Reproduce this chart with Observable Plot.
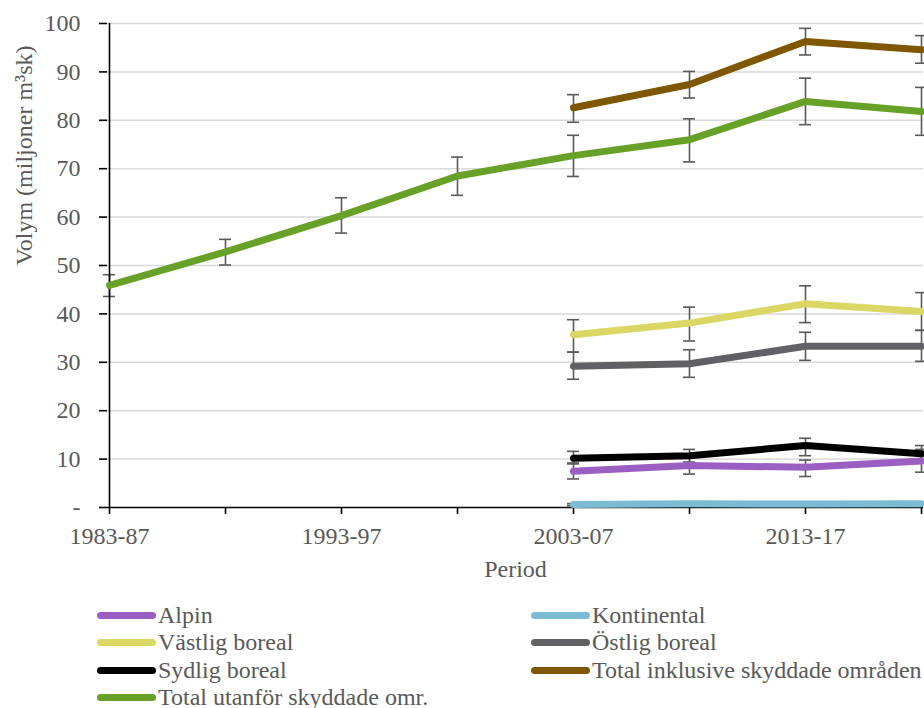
<!DOCTYPE html>
<html>
<head>
<meta charset="utf-8">
<script src="https://cdn.jsdelivr.net/npm/d3@7"></script>
<script src="https://cdn.jsdelivr.net/npm/@observablehq/plot@0.6"></script>
<style>
  html, body { margin: 0; padding: 0; background: #fff; overflow: hidden; }
  #chart svg, #chart svg text { font-family: 'Liberation Serif', 'Times New Roman', serif !important; font-size: 24px !important; }
  #chart svg text { fill: #595959; }
  #chart svg [aria-label$="axis tick"] path, #chart svg .tick line { stroke-width: 1.6px; }
  #legend {
    margin-top: 1.8px;
    padding-left: 97px;
    display: grid;
    grid-template-columns: 434px auto;
    grid-auto-rows: 27.4px;
    font-family: 'Liberation Serif', 'Times New Roman', serif;
    font-size: 24px;
    line-height: 27.4px;
    color: #595959;
    white-space: nowrap;
  }
  .item { display: flex; align-items: center; }
  .sw { width: 59px; height: 7px; border-radius: 3.5px; margin-right: 2px; flex: none; }
</style>
</head>
<body>
<div id="chart"></div>
<div id="legend"></div>
<script>
// ---- data ----
const periods = ["1983-87","1988-92","1993-97","1998-02","2003-07","2008-12","2013-17","2018-22"];
const xTickLabels = ["1983-87","","1993-97","","2003-07","","2013-17",""];
const yTicks = [0,10,20,30,40,50,60,70,80,90,100];

const seriesNames = ["Alpin","Kontinental","Västlig boreal","Östlig boreal","Sydlig boreal","Total inklusive skyddade områden","Total utanför skyddade omr."];
const seriesColors = ["#9b5fc3","#7cbcd3","#dad765","#616165","#000000","#7f5700","#67a128"];

const alpin      = [null,null,null,null, 7.5, 8.7, 8.3, 9.6];
const alpinLo    = [null,null,null,null, 5.9, 6.9, 6.4, 7.3];
const alpinHi    = [null,null,null,null, 9.2,10.3, 9.8,12.0];

const kontinental   = [null,null,null,null, 0.6, 0.75, 0.7, 0.75];
const kontinentalLo = [null,null,null,null, 0.4, 0.5, 0.5, 0.5];
const kontinentalHi = [null,null,null,null, 0.8, 1.0, 0.9, 1.0];

const vastlig    = [null,null,null,null,35.7,38.1,42.1,40.5];
const vastligLo  = [null,null,null,null,32.1,34.4,38.2,36.6];
const vastligHi  = [null,null,null,null,38.8,41.4,45.8,44.4];

const ostlig     = [null,null,null,null,29.2,29.7,33.3,33.3];
const ostligLo   = [null,null,null,null,26.5,26.9,30.4,30.2];
const ostligHi   = [null,null,null,null,32.1,32.6,36.2,36.6];

const sydlig     = [null,null,null,null,10.2,10.7,12.8,11.1];
const sydligLo   = [null,null,null,null, 9.0, 9.4,10.7, 9.4];
const sydligHi   = [null,null,null,null,11.6,12.0,14.3,12.8];

const totalInkl   = [null,null,null,null,82.6,87.4,96.3,94.6];
const totalInklLo = [null,null,null,null,79.6,84.6,93.5,91.8];
const totalInklHi = [null,null,null,null,85.3,90.1,99.0,97.5];

const totalUtan   = [45.9,52.8,60.3,68.5,72.7,76.0,83.9,81.8];
const totalUtanLo = [43.6,50.1,56.7,64.5,68.4,71.4,79.1,76.9];
const totalUtanHi = [48.1,55.4,64.0,72.4,76.9,80.3,88.7,86.8];

const seriesValues = [alpin, kontinental, vastlig, ostlig, sydlig, totalInkl, totalUtan];
const seriesLo = [alpinLo, kontinentalLo, vastligLo, ostligLo, sydligLo, totalInklLo, totalUtanLo];
const seriesHi = [alpinHi, kontinentalHi, vastligHi, ostligHi, sydligHi, totalInklHi, totalUtanHi];

// ---- long table ----
const rows = [];
seriesNames.forEach((s, si) => {
  periods.forEach((p, pi) => {
    const v = seriesValues[si][pi];
    if (v != null) rows.push({series: s, period: p, value: v, lo: seriesLo[si][pi], hi: seriesHi[si][pi]});
  });
});

const font = "'Liberation Serif', 'Times New Roman', serif";
const errColor = "#595959";

const marks = [
  Plot.ruleY(yTicks.filter(d => d > 0), {stroke: "#d9d9d9", strokeWidth: 1.5}),
  Plot.ruleX(rows, {x: "period", y1: "lo", y2: "hi", stroke: errColor, strokeWidth: 1.6}),
  Plot.ruleY(rows, {x1: "period", x2: "period", y: "lo", insetLeft: -6, insetRight: -6, stroke: errColor, strokeWidth: 1.6}),
  Plot.ruleY(rows, {x1: "period", x2: "period", y: "hi", insetLeft: -6, insetRight: -6, stroke: errColor, strokeWidth: 1.6}),
  Plot.ruleY([0], {stroke: "black", strokeWidth: 1.6}),
  Plot.ruleX([periods[0]], {stroke: "black", strokeWidth: 1.6}),
];
seriesNames.forEach((s, si) => {
  marks.push(Plot.line(rows.filter(r => r.series === s), {
    x: "period", y: "value", stroke: seriesColors[si], strokeWidth: 7,
    strokeLinecap: "round", strokeLinejoin: "round"
  }));
});
marks.push(
  Plot.text(["Period"], {text: d => d, frameAnchor: "bottom", dy: 69, fontSize: 24, fill: "#595959"}),
  Plot.text(["Volym (miljoner m³sk)"], {text: d => d, frameAnchor: "left", rotate: -90, dx: -83, fontSize: 24, fill: "#595959"})
);

const chart = Plot.plot({
  width: 924,
  height: 600,
  marginLeft: 107,
  marginRight: 1,
  marginTop: 23,
  marginBottom: 93,
  style: {fontFamily: font, fontSize: "24px", color: "black", background: "white", overflow: "hidden"},
  x: {type: "point", domain: periods, padding: 0, tickSize: 7, tickPadding: 12,
      tickFormat: d => xTickLabels[periods.indexOf(d)], label: null},
  y: {domain: [0, 100], ticks: yTicks, tickSize: 8, tickPadding: 19,
      tickFormat: d => d === 0 ? "-" : String(d), label: null},
  marks
});
document.getElementById("chart").appendChild(chart);

// ---- legend ----
const legend = document.getElementById("legend");
seriesNames.forEach((s, si) => {
  const item = document.createElement("div");
  item.className = "item";
  const sw = document.createElement("span");
  sw.className = "sw";
  sw.style.background = seriesColors[si];
  const t = document.createElement("span");
  t.textContent = s;
  item.appendChild(sw);
  item.appendChild(t);
  legend.appendChild(item);
});
</script>
</body>
</html>
